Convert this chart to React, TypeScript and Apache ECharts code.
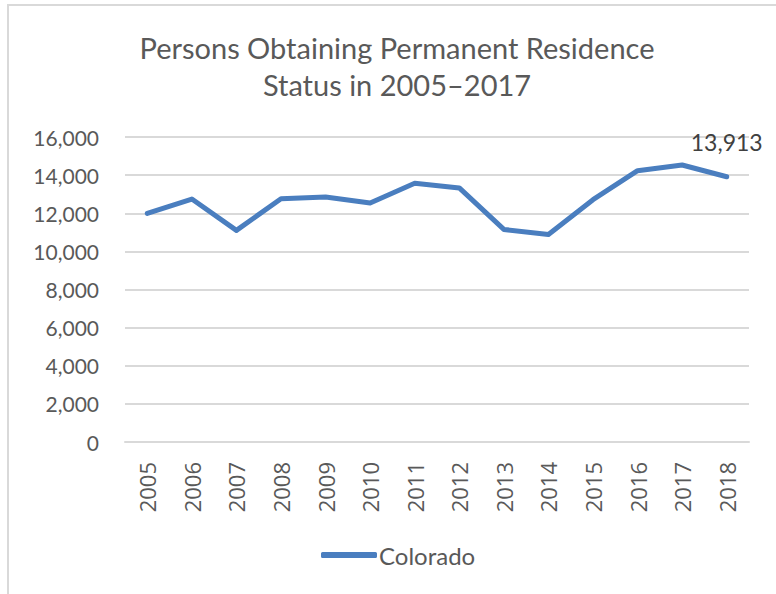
import React, { useEffect, useRef } from "react";
import * as echarts from "echarts";

const titleLines = ["Persons Obtaining Permanent Residence", "Status in 2005–2017"];
const years = ["2005", "2006", "2007", "2008", "2009", "2010", "2011", "2012", "2013", "2014", "2015", "2016", "2017", "2018"];
const seriesName = "Colorado";
const values = [11990, 12745, 11100, 12760, 12850, 12540, 13575, 13330, 11150, 10890, 12710, 14235, 14530, 13913];
const labelledIndex = values.length - 1;

const FONT = "Lato";
const BLUE = "#4a7ebf";
const GREY_TEXT = "#595959";

export default function App() {
  const ref = useRef<HTMLDivElement>(null);
  useEffect(() => {
    if (!ref.current) return;
    const chart = echarts.init(ref.current, undefined, { renderer: "svg" });
    chart.setOption({
      animation: false,
      backgroundColor: "#ffffff",
      title: {
        text: titleLines.join("\n"),
        left: 392,
        top: 24,
        textAlign: "center",
        textStyle: {
          fontFamily: FONT,
          fontWeight: "normal",
          fontSize: 29,
          lineHeight: 37,
          color: GREY_TEXT,
        },
      },
      graphic: [
        {
          type: "rect",
          shape: { x: 8, y: 5, width: 900, height: 700 },
          style: { fill: "none", stroke: "#d9d9d9", lineWidth: 2 },
          silent: true,
        },
      ],
      legend: {
        data: [seriesName],
        left: 316,
        top: 538,
        icon: "roundRect",
        itemWidth: 56,
        itemHeight: 6,
        textStyle: { fontFamily: FONT, fontSize: 24, color: GREY_TEXT, padding: [0, 0, 0, -3] },
      },
      grid: { left: 125, top: 137, width: 624, height: 305, containLabel: false },
      xAxis: {
        type: "category",
        data: years,
        boundaryGap: true,
        axisLine: { show: true, lineStyle: { color: "#d9d9d9", width: 2 } },
        axisTick: { show: false },
        axisLabel: {
          rotate: 90,
          margin: 20,
          fontFamily: "Open Sans",
          fontSize: 22,
          color: GREY_TEXT,
        },
      },
      yAxis: {
        type: "value",
        min: 0,
        max: 16000,
        interval: 2000,
        axisLine: { show: false },
        axisTick: { show: false },
        splitLine: { lineStyle: { color: "#d9d9d9", width: 2 } },
        axisLabel: {
          margin: 26,
          fontFamily: FONT,
          fontSize: 21,
          color: GREY_TEXT,
          formatter: (v: number) => v.toLocaleString("en-US"),
        },
      },
      series: [
        {
          name: seriesName,
          type: "line",
          symbol: "circle",
          symbolSize: 2,
          showSymbol: true,
          lineStyle: { color: BLUE, width: 5, cap: "round", join: "round" },
          itemStyle: { color: BLUE },
          label: { show: false },
          data: values.map((v, i) =>
            i === labelledIndex
              ? {
                  value: v,
                  label: {
                    show: true,
                    position: "top",
                    distance: 22,
                    fontFamily: FONT,
                    fontSize: 23,
                    color: "#404040",
                    formatter: (p: any) => Number(p.value).toLocaleString("en-US"),
                  },
                }
              : v
          ),
        },
      ],
    });
    return () => chart.dispose();
  }, []);
  return (
    <div
      ref={ref}
      style={{ position: "absolute", left: 0, top: 0, width: 776, height: 594 }}
    />
  );
}
